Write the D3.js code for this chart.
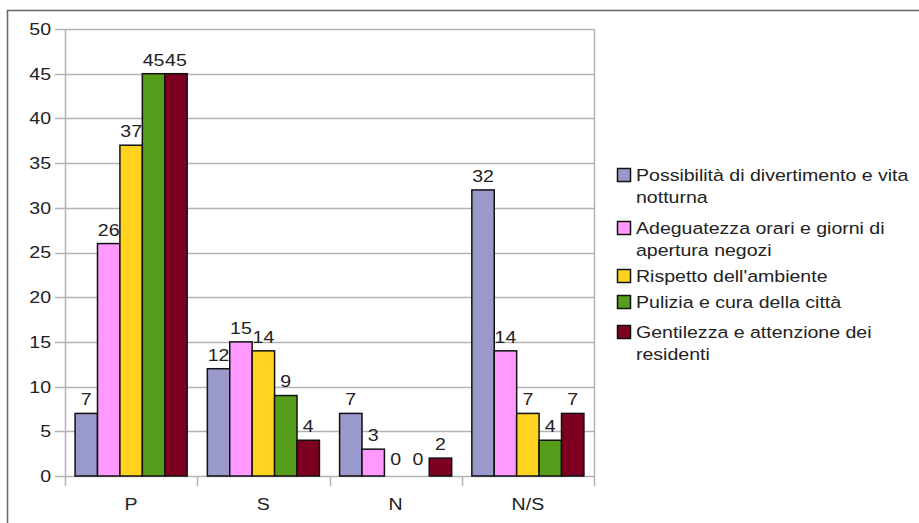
<!DOCTYPE html>
<html>
<head>
<meta charset="utf-8">
<script src="https://cdn.jsdelivr.net/npm/d3@7"></script>
<style>
  body { margin: 0; background: #fff; }
  text { font-family: "Liberation Sans", Arial, sans-serif; }
</style>
</head>
<body>
<div id="chart"></div>
<script>
// Dati
const categorie = ["P", "S", "N", "N/S"];
const serie = [
  "Possibilità di divertimento e vita notturna",
  "Adeguatezza orari e giorni di apertura negozi",
  "Rispetto dell'ambiente",
  "Pulizia e cura della città",
  "Gentilezza e attenzione dei residenti"
];
// righe della legenda (testo a capo come nell'originale)
const righeLegenda = [
  ["Possibilità di divertimento e vita", "notturna"],
  ["Adeguatezza orari e giorni di", "apertura negozi"],
  ["Rispetto dell'ambiente"],
  ["Pulizia e cura della città"],
  ["Gentilezza e attenzione dei", "residenti"]
];
const divertimento = [7, 12, 7, 32];
const orari = [26, 15, 3, 14];
const ambiente = [37, 14, 0, 7];
const pulizia = [45, 9, 0, 4];
const gentilezza = [45, 4, 2, 7];
const valori = [divertimento, orari, ambiente, pulizia, gentilezza];
const tickY = [0, 5, 10, 15, 20, 25, 30, 35, 40, 45, 50];
const colori = ["#9999cc", "#ff99ff", "#ffd320", "#579d1c", "#7e0021"];

const width = 919, height = 523;
const margin = { top: 29, left: 65, right: 594, bottom: 476 };
const fontSize = 17;
const allarga = 1.15; // il testo originale è un po' più largo

const svg = d3.select("#chart").append("svg")
  .attr("width", width)
  .attr("height", height);

// scrive un testo un po' allargato in orizzontale
function testo(g, x, y, t, anchor) {
  return g.append("text")
    .attr("transform", `translate(${x},${y}) scale(${allarga},1)`)
    .attr("dy", "0.35em")
    .attr("text-anchor", anchor || "start")
    .attr("font-size", fontSize)
    .attr("fill", "#222")
    .text(t);
}

// cornice esterna
svg.append("rect")
  .attr("x", 7.5).attr("y", 10.5)
  .attr("width", 1000).attr("height", 1000)
  .attr("fill", "none")
  .attr("stroke", "#666")
  .attr("stroke-width", 1.5);

const x0 = d3.scaleBand()
  .domain(categorie)
  .range([margin.left, margin.right])
  .paddingInner(0)
  .paddingOuter(0);

const x1 = d3.scaleBand()
  .domain(d3.range(serie.length))
  .range([0, x0.bandwidth()])
  .paddingOuter(0.45)
  .paddingInner(0);

const y = d3.scaleLinear()
  .domain([0, 50])
  .range([margin.bottom, margin.top]);

// griglia orizzontale
svg.append("g")
  .selectAll("line")
  .data(tickY)
  .join("line")
  .attr("x1", margin.left - 10)
  .attr("x2", margin.right)
  .attr("y1", d => Math.round(y(d)) + 0.5)
  .attr("y2", d => Math.round(y(d)) + 0.5)
  .attr("stroke", "#b3b3b3")
  .attr("stroke-width", 1.5);

// asse verticale
svg.append("line")
  .attr("x1", margin.left + 0.5).attr("x2", margin.left + 0.5)
  .attr("y1", margin.top).attr("y2", margin.bottom)
  .attr("stroke", "#b3b3b3").attr("stroke-width", 1.5);

// bordo destro
svg.append("line")
  .attr("x1", margin.right + 0.5).attr("x2", margin.right + 0.5)
  .attr("y1", margin.top).attr("y2", margin.bottom + 10)
  .attr("stroke", "#b3b3b3").attr("stroke-width", 1.5);

// tacche asse x tra le categorie
svg.append("g")
  .selectAll("line")
  .data(categorie)
  .join("line")
  .attr("x1", d => Math.round(x0(d)) + 0.5)
  .attr("x2", d => Math.round(x0(d)) + 0.5)
  .attr("y1", margin.bottom)
  .attr("y2", margin.bottom + 10)
  .attr("stroke", "#b3b3b3").attr("stroke-width", 1.5);

// etichette asse y
const gy = svg.append("g");
tickY.forEach(d => testo(gy, margin.left - 14, y(d), d, "end"));

// etichette asse x
const gx = svg.append("g");
categorie.forEach(d => testo(gx, x0(d) + x0.bandwidth() / 2, margin.bottom + 28, d, "middle"));

// barre
const gruppi = svg.append("g")
  .selectAll("g")
  .data(categorie)
  .join("g")
  .attr("transform", d => `translate(${x0(d)},0)`);

gruppi.selectAll("rect")
  .data((c, ci) => valori.map((v, si) => ({ s: si, v: v[ci] })))
  .join("rect")
  .filter(d => d.v > 0)
  .attr("x", d => x1(d.s))
  .attr("y", d => y(d.v))
  .attr("width", x1.bandwidth())
  .attr("height", d => y(0) - y(d.v))
  .attr("fill", d => colori[d.s])
  .attr("stroke", "#111")
  .attr("stroke-width", 1.5);

// valori sopra le barre
gruppi.each(function (c, ci) {
  const g = d3.select(this);
  valori.forEach((v, si) => {
    const val = v[ci];
    testo(g, x1(si) + x1.bandwidth() / 2, y(val) - (val === 0 ? 17 : 14), val, "middle");
  });
});

// legenda
const legenda = svg.append("g").attr("transform", "translate(617,0)");
const yLegenda = [175, 228, 276, 302, 332];
righeLegenda.forEach((righe, i) => {
  legenda.append("rect")
    .attr("x", 0.5)
    .attr("y", yLegenda[i] - 6.5)
    .attr("width", 13)
    .attr("height", 13)
    .attr("fill", colori[i])
    .attr("stroke", "#111")
    .attr("stroke-width", 1.5);
  righe.forEach((r, j) => testo(legenda, 19, yLegenda[i] + j * 22, r));
});
</script>
</body>
</html>
